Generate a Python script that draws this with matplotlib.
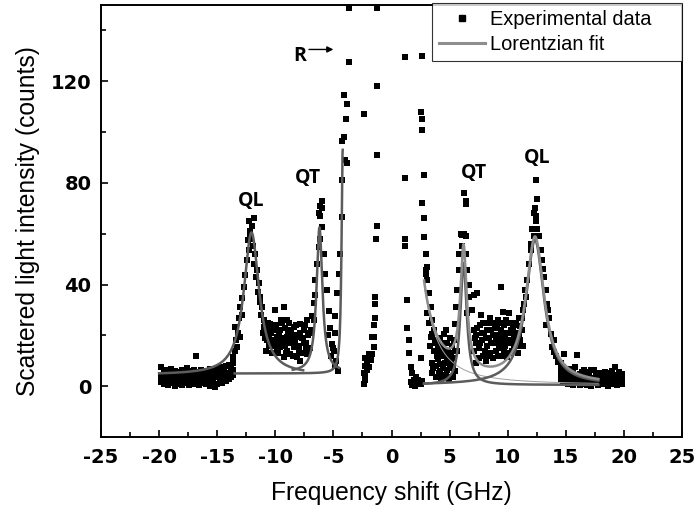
import numpy as np
import matplotlib
matplotlib.use("Agg")
import matplotlib.pyplot as plt
from matplotlib.ticker import MultipleLocator

bg_left_x   = [-19.8, -19.6, -19.4, -19.2, -19.0, -18.8, -18.6, -18.4, -18.2, -18.0,
               -17.8, -17.6, -17.4, -17.2, -17.0, -16.8, -16.6, -16.4, -16.2, -16.0,
               -15.8, -15.6, -15.4, -15.2, -15.0, -14.8, -14.6, -14.4, -14.2, -14.0,
               -13.8, -13.6]
bg_left_lo  = [1.5, 0.8, 2.0, 0.5, 1.2, 2.2, 0.0, 1.0, 1.8, 0.6, 2.4, 1.1, 0.3, 1.6, 0.9, 2.0,
               0.4, 1.3, 2.2, 0.7, 1.5, 0.2, 1.9, -0.5, 1.0, 2.3, 1.4, 2.6, 2.0, 3.0, 3.5, 4.2]
bg_left_mid = [3.5, 4.0, 3.0, 4.2, 3.6, 3.2, 4.4, 3.4, 2.9, 4.1, 3.7, 3.1, 4.5, 3.3, 3.9, 2.8,
               4.2, 3.6, 3.0, 4.3, 3.5, 3.9, 3.2, 4.6, 3.8, 4.4, 4.0, 5.0, 4.6, 5.3, 5.6, 6.2]
bg_left_hi  = [7.5, 5.5, 6.3, 5.2, 6.8, 5.0, 6.0, 5.6, 4.9, 6.5, 5.3, 7.0, 5.8, 5.1, 6.2, 11.8,
               5.4, 6.4, 5.0, 6.0, 5.5, 6.8, 5.2, 6.1, 7.2, 5.9, 7.6, 6.6, 7.8, 8.4, 7.2, 9.0]

ql_left_x = [-13.6, -13.45, -13.3, -13.2, -13.16, -13.0, -13.0, -12.9, -12.87, -12.73,
             -13.5, -12.59, -12.44, -13.35, -12.33, -12.3, -12.3, -12.16, -12.16, -12.05,
             -12.0, -11.9, -11.87, -11.8, -11.72, -11.65, -11.58, -11.5, -11.44, -11.35,
             -11.3, -11.2, -11.15, -11.0, -10.86]
ql_left_y = [11.5, 23.3, 15.5, 21.0, 26.7, 31.0, 19.4, 28.0, 34.6, 39.0,
             14.0, 43.6, 49.5, 18.0, 57.6, 53.5, 65.0, 60.0, 61.0, 58.0,
             63.0, 55.0, 66.0, 48.0, 52.0, 43.0, 45.6, 37.0, 40.5, 33.0,
             35.0, 28.0, 31.0, 26.0, 24.0]

hump_left_x = [-11.0, -11.1, -10.72, -10.43, -10.14, -9.86, -9.57, -9.28, -10.0, -9.0,
               -8.86, -8.71, -8.42, -8.1, -7.84, -7.56, -7.27, -6.98, -9.57, -9.28,
               -9.0, -8.71, -8.42, -8.13, -7.84, -8.0, -7.56, -7.27, -9.28, -9.86,
               -10.3, -10.6, -9.0, -8.57, -8.27, -9.7, -9.4, -9.15, -8.9, -8.6,
               -8.3, -7.95, -7.7, -7.4, -10.5, -10.2, -9.9,
               -10.9, -10.8, -10.65, -10.55, -10.35, -10.25, -10.05, -9.95, -9.75, -9.65,
               -9.5, -9.35, -9.2, -9.1, -8.95, -8.8, -8.65, -8.5, -8.35, -8.2,
               -8.05, -7.9, -7.75, -7.65, -7.45, -7.35, -7.15, -7.05]
hump_left_y = [23.3, 21, 18, 24.6, 22, 19.4, 22, 31.2, 30, 26,
               22, 18, 23.3, 19.4, 24.6, 22, 26, 21, 15.5, 17,
               14, 12.8, 15.5, 11.5, 10, 14, 17, 12.8, 11.5, 15.5,
               18, 22, 19.4, 19.4, 17, 20, 25, 16, 21, 17,
               20, 16, 19, 15, 20, 16, 17,
               19, 14, 25, 16, 21, 13, 18, 24, 13, 17,
               26, 19, 23, 13, 17, 25, 21, 12, 18, 24,
               16, 21, 13, 19, 24, 17, 20, 15]

qt_left_x = [-6.84, -6.7, -6.55, -6.55, -6.41, -6.27, -6.12, -6.18, -5.98, -5.98, -6.12, -6.0,
             -6.26, -5.84, -5.7, -5.55, -5.4, -5.26, -5.1, -6.95, -6.7, -5.45, -5.2, -5.0]
qt_left_y = [27.5, 32.6, 41.7, 36, 48, 54.8, 58, 67, 62.6, 73, 71, 70,
             68, 52, 44, 37.7, 29.7, 23, 16.7, 22, 26, 20, 12, 15]

r_left_x = [-4.97, -4.83, -4.83, -4.68, -4.54, -4.4, -4.25, -4.25, -3.97, -3.82,
            -4.25, -4.1, -3.88, -3.8, -4.1, -3.68, -3.68, -4.9, -4.75, -4.6]
r_left_y = [14, 21, 27.5, 36.5, 44, 52, 66.6, 81, 89, 88,
            96.6, 98, 105, 111, 114.4, 127.5, 149, 8, 10, 6]

center_left_x = [-1.24, -1.24, -2.39, -1.24, -1.24, -1.3, -1.38, -1.38, -1.38, -1.5, -1.47, -1.67,
                 -1.5, -1.67, -1.95, -1.8, -2.1, -1.9, -2.1, -2.38, -2.24, -2.24, -2.38, -2.3, -2.25]
center_left_y = [149, 118, 107, 91, 63, 58, 35, 32.5, 27, 24, 19.4, 19.4,
                 15.4, 12.8, 12.8, 10.2, 9, 7.5, 6.3, 5, 4.3, 2.4, 1.0, 8, 11]

center_right_x = [1.2, 2.65, 2.5, 2.65, 2.65, 1.2, 2.8, 2.65, 2.8, 1.2, 1.2, 2.8, 2.93, 2.93, 1.35, 1.35,
                  1.5, 1.5, 1.65, 1.79, 1.93, 2.22, 2.5, 2.5, 2.08, 1.65, 1.8, 2.0, 2.3, 2.6, 2.1]
center_right_y = [129.5, 130, 108, 105, 101, 82, 83, 72, 66, 58, 55, 58.7, 52, 45.6, 33.8, 23,
                  18, 13, 7.5, 5, 2.5, 1, 0.7, 11, 3.7, 1.5, 0.5, 0, 2.5, 2.0, 1.8]

qt_right_x = [3.0, 3.07, 3.07, 3.2, 3.36, 3.5, 3.65, 3.94, 4.37, 4.8,
              5.1, 3.5, 3.07, 3.22, 3.36, 3.65, 4.0, 4.37, 4.8, 5.1,
              5.37, 4.51, 3.8, 3.5, 4.8, 5.1, 4.2, 5.46, 5.52, 5.66,
              5.8, 5.8, 5.95, 6.24, 6.38, 6.38, 6.24, 6.1, 6.38, 6.1,
              6.38, 6.52, 6.67, 6.67, 6.95, 7.1, 7.25, 7.1, 6.52, 4.6,
              4.0, 5.6, 4.2, 5.3, 3.9, 4.6, 5.0, 5.25, 4.4,
              3.3, 3.45, 3.6, 3.75, 3.85, 4.05, 4.1, 4.25, 4.3, 4.45, 4.55,
              4.7, 4.75, 4.9, 4.95, 5.05, 5.2, 5.3, 5.45, 5.5, 4.65, 4.15]
qt_right_y = [44, 41.6, 47, 36.5, 31, 26, 22, 18, 14, 11.5,
              10, 20.7, 28.6, 24.7, 19.4, 14, 10.6, 12, 16.8, 13,
              18, 20.7, 3.7, 5, 6.3, 3.7, 8.8, 24.5, 31, 37.7,
              45.6, 52, 60, 76, 73, 71.6, 60, 59.5, 58.9, 55,
              52, 45.6, 40, 35, 30, 22, 17, 35.8, 28.6, 17,
              15, 14, 6, 8, 12, 9, 19, 11, 4.5,
              16, 9, 7, 17, 8, 5, 13, 16, 3, 7, 13,
              4, 9, 14, 2.5, 7, 16, 3.5, 14, 6, 22, 19]

hump_right_x = [7.3, 7.5, 7.6, 7.8, 7.9, 8.0, 8.2, 8.3, 8.4, 8.5, 8.6, 8.8, 8.9, 9.0, 9.1,
                9.2, 9.3, 9.4, 9.5, 9.6, 9.7, 9.8, 9.9, 10.0, 10.1, 10.2, 10.3, 10.4, 10.5,
                10.6, 10.7, 10.8, 11.0, 11.1, 9.4, 7.4, 7.25, 8.1, 8.7, 9.9, 10.9, 7.7, 9.6, 8.45,
                7.1, 7.2, 7.35, 7.5, 7.65, 7.75, 7.9, 8.05, 8.15, 8.25, 8.35, 8.55, 8.65,
                8.75, 8.95, 9.05, 9.15, 9.25, 9.35, 9.45, 9.55, 9.65, 9.75, 9.85, 9.95,
                10.05, 10.15, 10.25, 10.35, 10.45, 10.55, 10.65, 10.75, 10.85, 10.95,
                11.05, 11.2, 11.3]
hump_right_y = [20, 15, 24, 18, 12, 21, 16, 25, 19, 13, 22, 17, 24, 14, 20,
                26, 17, 22, 12, 19, 24, 16, 21, 25, 28.6, 18, 22, 14, 20,
                24, 17, 21, 27, 23.5, 39, 36.5, 9, 10, 11, 11.5, 13, 28, 29, 27,
                14, 19, 23, 11, 17, 21, 25, 14, 19, 22, 12, 17, 25,
                20, 18, 23, 12, 15, 25, 18, 21, 14, 19, 26, 17,
                21, 13, 25, 17, 23, 15, 19, 25, 16, 20,
                18, 22, 16]

ql_right_x = [11.98, 11.84, 11.7, 11.55, 11.4, 11.26, 11.1, 12.1, 12.27, 12.27, 12.4, 12.4,
              12.55, 12.55, 12.7, 12.84, 12.98, 13.13, 13.27, 13.4, 13.56, 13.7, 13.85, 14.13,
              14.56, 14.85, 12.35, 12.45, 12.0, 13.05, 13.5, 13.3, 13.95, 14.3, 14.0, 11.5, 11.35]
ql_right_y = [53.5, 48, 41.7, 35, 32.5, 27, 23.5, 62, 59, 68, 65, 81,
              73.8, 62, 59, 53.5, 49.5, 43, 37.7, 32.5, 27, 20.7, 15.5, 11.8,
              7.6, 12.5, 70, 67, 56, 46, 30, 24, 18, 9.5, 13.5, 38, 30]

bg_right_x   = [14.6, 14.8, 15.0, 15.2, 15.4, 15.6, 15.8, 16.0, 16.2, 16.4, 16.6, 16.8, 17.0, 17.2,
                17.4, 17.6, 17.8, 18.0, 18.2, 18.4, 18.6, 18.8, 19.0, 19.2, 19.4, 19.6, 19.8]
bg_right_lo  = [3.0, 2.2, 1.5, 0.8, 1.8, 0.5, 1.2, 2.0, 0.3, 1.0, 1.6, 0.6, 1.4, 0.2,
                1.1, 1.8, 0.4, 1.3, 0.7, 1.9, 0.0, 1.2, 0.8, 1.6, 0.3, 1.4, 0.9]
bg_right_mid = [5.2, 4.5, 3.6, 3.0, 4.1, 2.8, 3.5, 3.2, 2.6, 3.4, 2.9, 3.8, 2.7, 3.3,
                3.0, 2.5, 3.6, 2.8, 3.2, 2.6, 3.5, 2.9, 3.1, 3.7, 2.7, 3.3, 2.4]
bg_right_hi  = [9.0, 7.4, 6.0, 5.5, 6.8, 5.2, 7.6, 12.2, 4.8, 5.4, 6.3, 4.9, 5.6, 6.3,
                6.3, 5.0, 4.8, 5.3, 4.4, 5.6, 4.7, 5.2, 6.0, 7.6, 4.5, 5.6, 4.9]

# ── Lorentzian fit parameters (centre GHz, HWHM GHz, amplitude, offset, range) ──
fitL_center = [-12.05, -6.2, -4.2]
fitL_hwhm   = [0.8, 0.3, 0.12]
fitL_amp    = [56.0, 57.0, 88.0]
fitL_base   = [4.5, 5.5, 5.0]
fitL_from   = [-20.0, -8.5, -13.5]
fitL_to     = [-7.6, -4.5, -4.2]

fitR_center = [1.0, 6.2, 12.35]      # Rayleigh tail, QT, QL
fitR_hwhm   = [1.0, 0.33, 0.95]
fitR_amp    = [170.0, 48.0, 57.0]
fitR_base   = 0.5
fitR_range  = (2.8, 17.8)

labels_txt = ["QL", "QT", "QT", "QL"]
labels_x   = [-12.05, -7.2, 7.1, 12.55]
labels_y   = [71, 80, 82, 88]


def lorentz(x, x0, g, a):
    return a * g ** 2 / ((x - x0) ** 2 + g ** 2)


plt.rcParams["font.family"] = ["Liberation Sans", "DejaVu Sans"]
plt.rcParams["axes.unicode_minus"] = False

fig = plt.figure(figsize=(6.97, 5.19), dpi=100)
ax = fig.add_axes([0.1449, 0.158, 0.8336, 0.8324])

pt_kw = dict(ls="none", marker="s", ms=4.0, mfc="black", mec="black", mew=0, zorder=2)
for xs, ys in [(bg_left_x, bg_left_lo), (bg_left_x, bg_left_mid), (bg_left_x, bg_left_hi),
               (ql_left_x, ql_left_y), (hump_left_x, hump_left_y), (qt_left_x, qt_left_y),
               (r_left_x, r_left_y), (center_left_x, center_left_y),
               (center_right_x, center_right_y), (qt_right_x, qt_right_y),
               (hump_right_x, hump_right_y), (ql_right_x, ql_right_y),
               (bg_right_x, bg_right_lo), (bg_right_x, bg_right_mid), (bg_right_x, bg_right_hi)]:
    ax.plot(xs, ys, **pt_kw)

dark, light = "#5c5c5c", "#8e8e8e"

# left side components
for c, g, a, b, x0, x1 in zip(fitL_center, fitL_hwhm, fitL_amp, fitL_base, fitL_from, fitL_to):
    xx = np.linspace(x0, x1, 600)
    ax.plot(xx, b + lorentz(xx, c, g, a), color=dark, lw=1.8, zorder=3)

# right side components + sum
xx = np.linspace(*fitR_range, 900)
comps = [lorentz(xx, c, g, a) for c, g, a in zip(fitR_center, fitR_hwhm, fitR_amp)]
ax.plot(xx, fitR_base + comps[0], color="#a0a0a0", lw=0.7, zorder=3)
ax.plot(xx, fitR_base + comps[1], color=dark, lw=1.8, zorder=3)
ax.plot(xx, fitR_base + comps[2], color=dark, lw=1.8, zorder=3)
ax.plot(xx, fitR_base + sum(comps), color=light, lw=1.8, zorder=4)

ann_font = ["Open Sans", "DejaVu Sans"]
for t, x, y in zip(labels_txt, labels_x, labels_y):
    ax.text(x, y, t, ha="center", va="baseline", fontsize=14, fontweight="bold",
            family=ann_font)
ax.text(-7.9, 128, "R", ha="center", va="baseline", fontsize=14, fontweight="bold",
        family=ann_font)
ax.annotate("", xy=(-5.0, 132.5), xytext=(-7.1, 132.5),
            arrowprops=dict(arrowstyle="-|>", lw=1.0, color="black", mutation_scale=9,
                            shrinkA=0, shrinkB=0))

# legend handles
h1, = ax.plot([], [], ls="none", marker="s", ms=4.6, color="black")
h2, = ax.plot([], [], color=light, lw=2.2)
leg = ax.legend([h1, h2], ["Experimental data", "Lorentzian fit"],
                loc="upper left", bbox_to_anchor=(0.57, 1.004, 0.43, 0.0), mode="expand",
                borderaxespad=0, fontsize=14.4, frameon=True, fancybox=False,
                numpoints=1, handlelength=2.3, handletextpad=0.25, borderpad=0.35,
                labelspacing=0.3)
leg.get_frame().set_edgecolor("black")
leg.get_frame().set_linewidth(0.8)

ax.set_xlim(-25, 25)
ax.set_ylim(-20, 150)
ax.xaxis.set_major_locator(MultipleLocator(5))
ax.xaxis.set_minor_locator(MultipleLocator(2.5))
ax.yaxis.set_major_locator(MultipleLocator(40))
ax.yaxis.set_minor_locator(MultipleLocator(20))
ax.tick_params(which="both", direction="in", top=False, right=False, width=1.2)
ax.tick_params(which="major", length=5)
ax.tick_params(which="minor", length=3.5)
ax.tick_params(axis="x", which="major", pad=8)
ax.tick_params(axis="y", which="major", pad=7)
for lab in ax.get_xticklabels() + ax.get_yticklabels():
    lab.set_fontweight("bold")
    lab.set_fontsize(14)
    lab.set_family(["DejaVu Sans"])
for sp in ax.spines.values():
    sp.set_linewidth(1.4)

ax.set_xlabel("Frequency shift (GHz)", fontsize=17.7, labelpad=10)
ax.set_ylabel("Scattered light intensity (counts)", fontsize=17.7, labelpad=8)

fig.savefig("out.png", dpi=100)
